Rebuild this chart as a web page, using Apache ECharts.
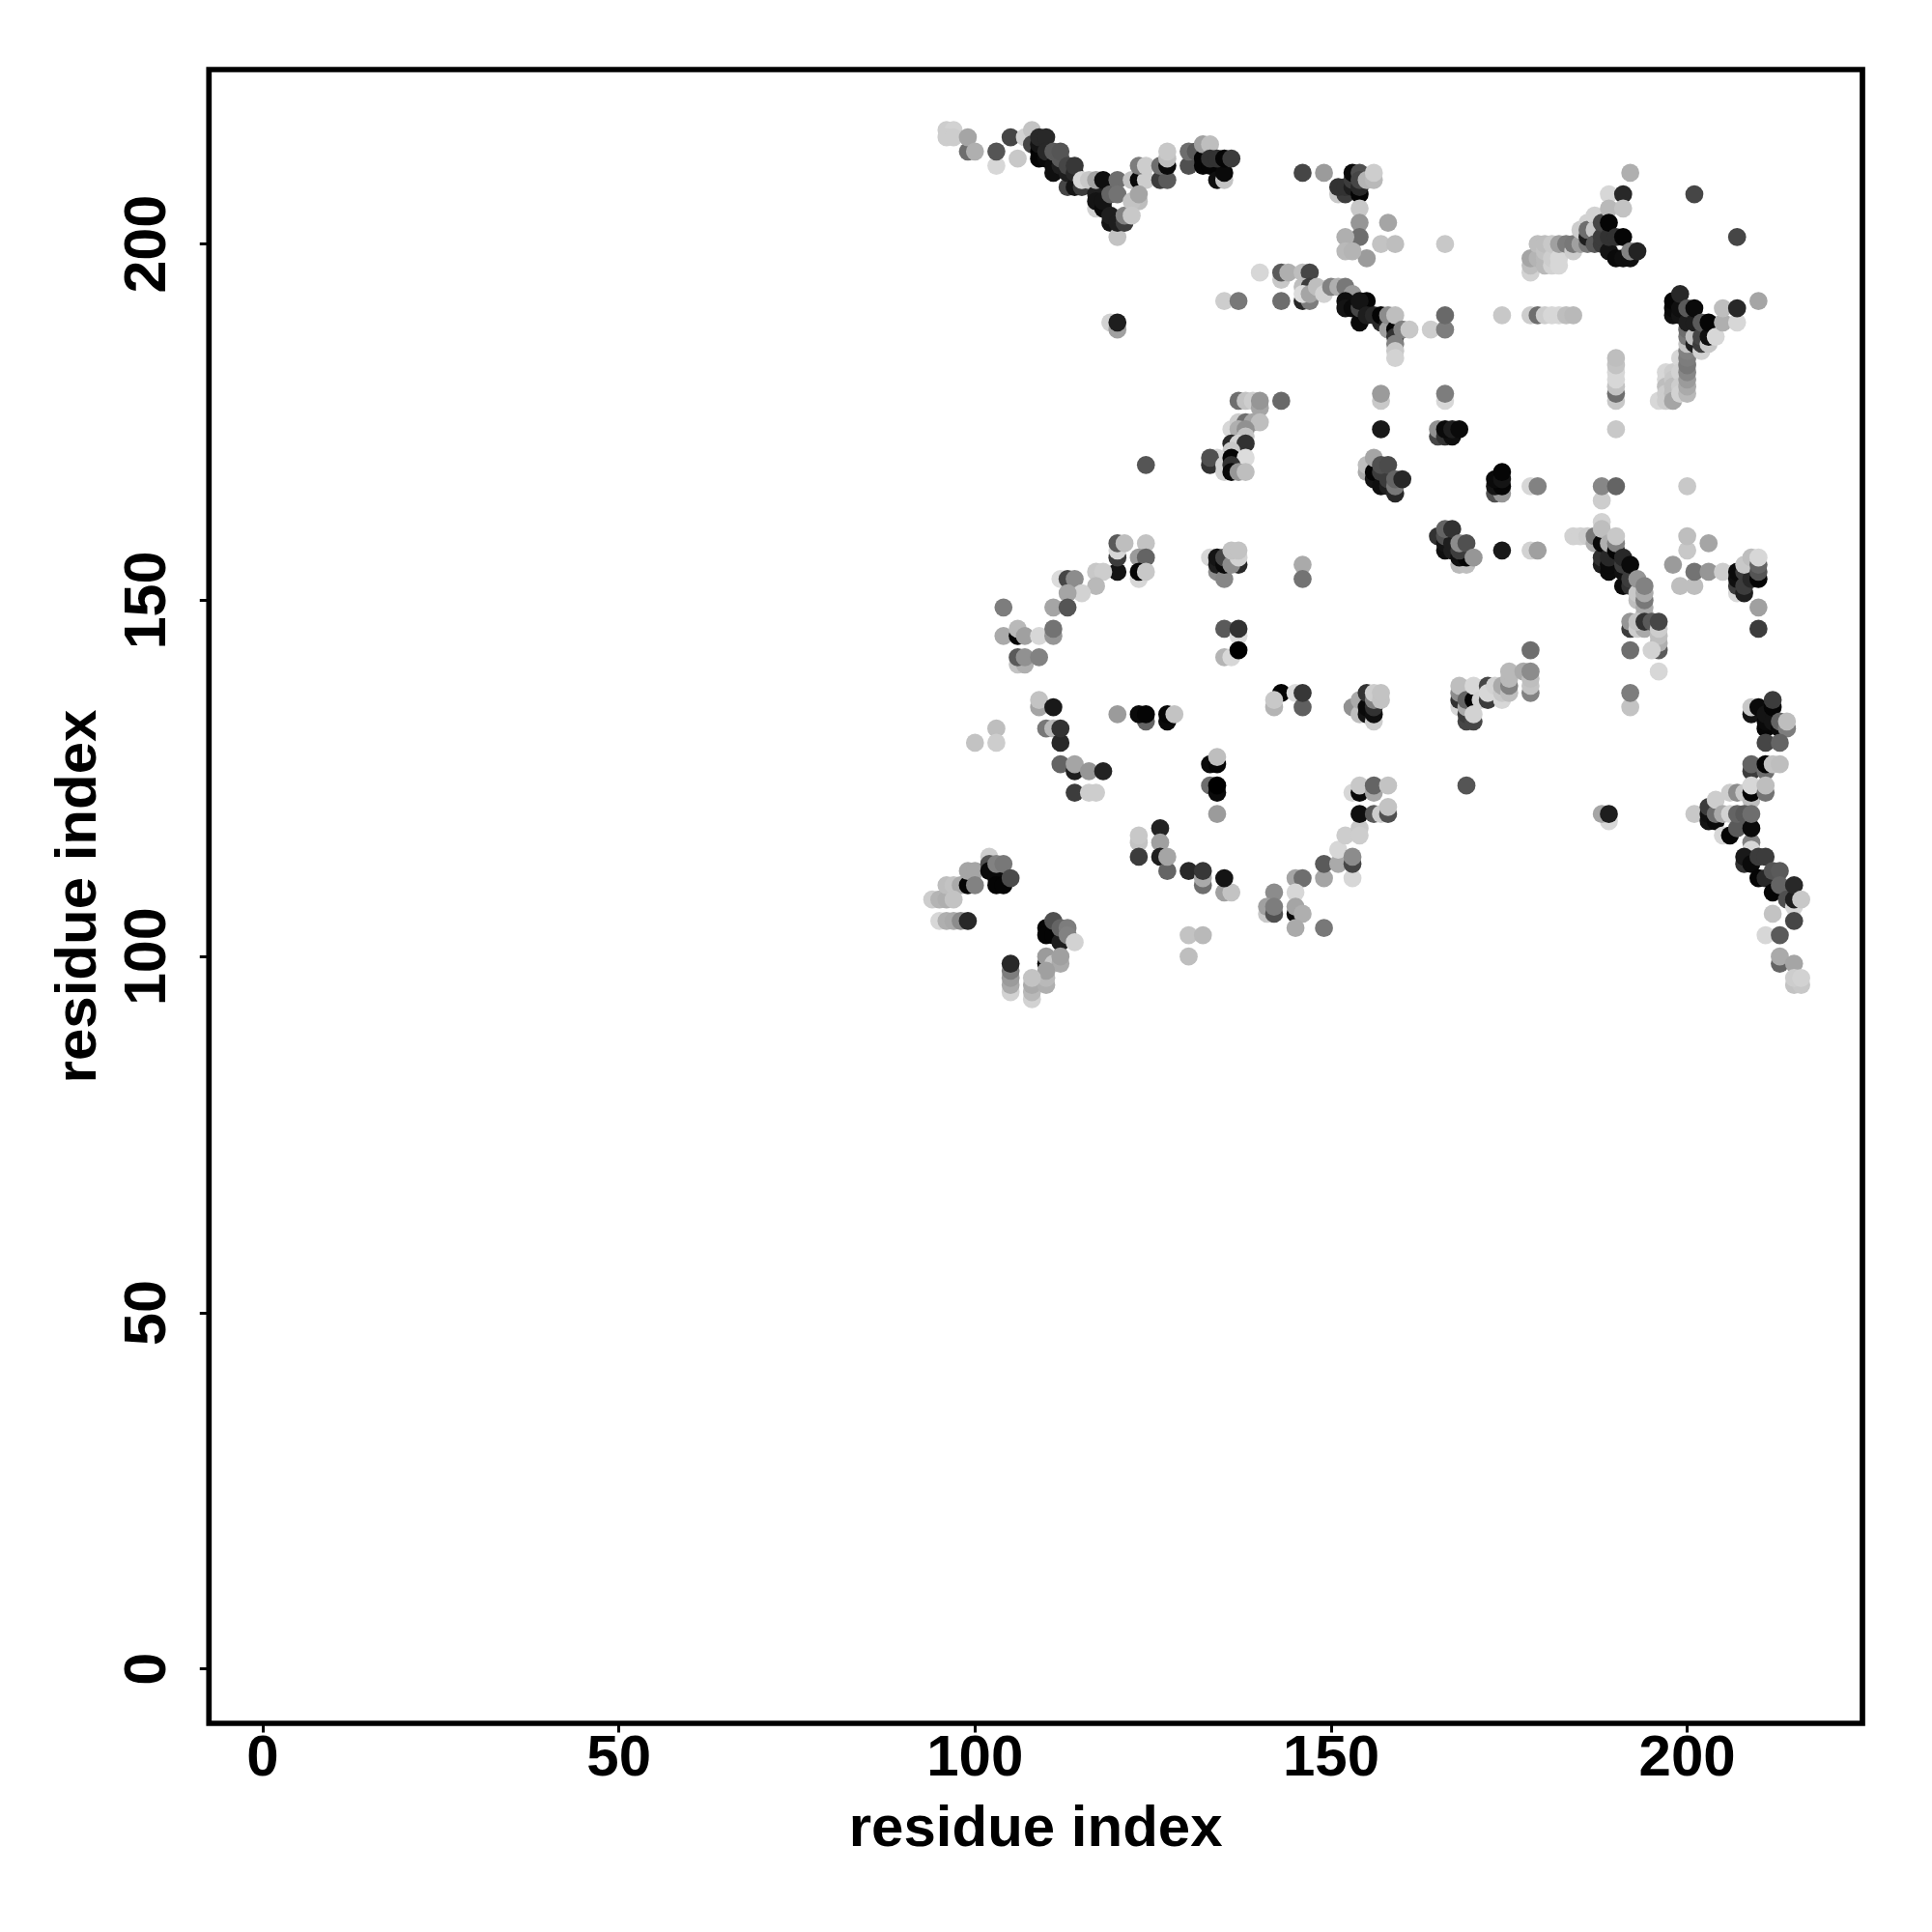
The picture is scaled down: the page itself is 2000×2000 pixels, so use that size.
<!DOCTYPE html>
<html><head><meta charset="utf-8">
<style>html,body{margin:0;padding:0;background:#fff}#c{width:2000px;height:2000px}</style>
<script src="https://cdn.jsdelivr.net/npm/echarts@6/dist/echarts.min.js"></script>
</head><body><div id="c"></div>
<script>
// Each contact: [residue i, residue j, grey level 0-255]
const topLeftArm=[[96,216,205],[97,216,210],[96,215,205],[97,215,205],[99,213,110],[99,215,165],[100,213,175],[103,211,215],[103,213,85],[105,215,70],[106,212,200],[107,215,210],[108,216,195],[108,214,70],[109,213,0],[109,212,5],[109,214,20],[109,215,40],[110,215,40],[110,212,10],[110,213,40],[111,211,15],[111,210,15],[111,213,90],[112,211,30],[112,212,90],[112,213,85],[113,208,70],[113,210,30],[113,211,70],[114,208,20],[114,210,40],[114,211,55],[115,208,60],[115,209,215],[116,209,200],[117,205,210],[117,207,30],[117,206,20],[117,209,165],[118,205,10],[118,206,20],[118,209,15],[119,203,20],[119,204,30],[119,207,100],[120,201,195],[120,203,30],[121,203,60],[121,204,130],[120,209,110],[120,207,115],[122,209,195],[123,209,10],[124,209,205],[123,206,190],[122,206,195],[123,207,165],[122,204,200],[123,211,125],[124,211,205],[126,209,60],[127,209,90],[126,211,110],[127,211,10],[127,212,190],[127,213,200]];
const topMiddleArm=[[130,211,80],[130,213,110],[131,213,90],[132,212,5],[132,211,5],[132,214,160],[133,214,190],[133,211,5],[133,212,50],[134,209,15],[135,209,195],[135,210,10],[134,212,50],[135,212,5],[136,212,60],[146,210,70],[149,210,155],[151,207,200],[152,207,60],[151,208,50],[152,208,50],[153,208,30],[154,207,5],[153,209,60],[153,210,10],[154,210,80],[154,208,40],[154,209,70],[155,209,180],[156,209,185],[156,210,205],[154,205,200],[154,203,150],[154,201,110],[158,203,165],[157,200,195],[159,200,190],[166,200,200],[155,198,155],[152,201,175],[152,199,185],[153,199,180]];
const diagonalUpper=[[140,196,215],[143,195,200],[143,196,90],[144,196,175],[146,196,190],[147,196,70],[146,194,190],[147,194,60],[135,192,205],[137,192,120],[143,192,110],[146,192,40],[147,192,125],[146,193,220],[147,193,165],[148,194,190],[149,193,210],[150,194,130],[151,194,175],[152,194,120],[153,193,155],[152,192,15],[152,191,20],[153,191,10],[154,189,10],[154,191,70],[155,192,5],[154,192,20],[155,190,30],[156,190,40],[157,189,40],[157,190,5],[158,189,30],[158,188,160],[158,190,140],[159,188,5],[159,187,50],[159,186,130],[159,185,200],[159,184,210],[159,190,190],[160,188,130],[161,188,200],[119,189,210],[120,188,160],[120,189,30],[164,188,205],[166,188,125],[166,190,105]];
const rowOneNinety=[[174,190,200],[178,190,205],[179,190,110],[180,190,205],[181,190,215],[182,190,215],[183,190,190],[184,190,185],[157,178,200],[157,179,155],[166,178,215],[166,179,125],[157,174,25],[165,173,70],[165,174,145],[166,173,50],[167,173,15],[166,174,10],[167,174,30],[168,174,10],[190,178,200],[190,179,110],[190,180,195],[190,181,215],[190,182,215],[190,183,195],[190,184,190],[190,174,200]];
const armOneNinety=[[178,196,210],[178,197,190],[178,198,165],[179,198,180],[179,200,190],[180,197,185],[180,198,185],[180,199,195],[180,200,190],[181,197,210],[181,198,205],[181,200,200],[182,197,215],[182,198,215],[182,200,160],[183,200,125],[184,199,205],[184,200,120],[185,200,160],[185,202,205],[186,203,210],[186,200,120],[186,201,30],[186,202,110],[187,204,210],[187,202,200],[187,200,90],[188,200,60],[188,201,60],[188,203,70],[189,207,215],[189,205,185],[189,199,20],[189,201,50],[189,203,5],[190,198,10],[190,201,50],[191,198,15],[191,207,40],[191,205,195],[191,201,5],[192,210,175],[192,198,15],[192,199,130],[193,199,35],[201,207,70],[207,201,70]];
const armTwoHundred=[[196,178,215],[197,182,215],[197,181,215],[197,180,190],[197,179,205],[197,178,205],[198,182,205],[198,181,200],[198,180,190],[198,179,190],[198,178,165],[199,184,215],[199,182,210],[199,180,205],[199,179,210],[200,179,185],[200,180,170],[200,181,155],[200,182,135],[200,183,120],[200,184,125],[200,185,130],[200,186,195],[200,187,120],[200,188,110],[198,190,15],[198,191,10],[198,192,5],[199,190,20],[199,191,15],[199,193,40],[200,189,30],[200,191,90],[201,186,30],[201,187,190],[201,189,30],[201,191,10],[202,185,210],[202,186,60],[202,187,70],[202,189,90],[203,186,200],[203,187,15],[203,189,5],[204,187,215],[205,189,175],[205,191,190],[207,189,215],[207,191,40],[210,192,165]];
const clusterLeftMiddle=[[137,178,110],[138,178,195],[139,178,205],[140,177,165],[140,178,150],[143,178,105],[136,174,215],[137,175,205],[138,175,110],[139,175,165],[140,175,190],[137,174,175],[138,174,145],[138,173,195],[136,172,40],[137,172,210],[138,172,50],[136,171,200],[134,170,215],[133,169,50],[133,170,80],[135,169,210],[136,170,5],[138,170,220],[135,168,210],[136,169,50],[136,168,10],[137,168,150],[138,168,190],[124,169,85],[146,155,170],[146,153,115]];
const clusterOneTwenty=[[120,154,20],[120,156,60],[120,157,215],[120,158,90],[121,158,190],[124,158,195],[123,156,155],[124,156,100],[123,153,215],[123,154,5],[124,154,200],[112,153,220],[113,153,70],[114,153,140],[117,154,200],[118,154,205],[117,152,185],[115,151,210],[113,151,165],[111,149,165],[113,149,85],[104,149,125],[104,145,170],[106,145,5],[106,146,185],[107,145,160],[109,145,215],[111,145,150],[111,146,115],[106,141,195],[107,141,175],[106,142,90],[107,142,145],[109,142,130]];
const clusterOneThirtyFive=[[133,156,215],[134,154,140],[134,155,30],[134,156,20],[135,153,135],[135,155,10],[135,156,70],[137,155,40],[136,155,140],[137,156,210],[136,157,195],[137,157,195],[135,146,90],[137,145,220],[137,146,50],[135,142,180],[136,142,215],[137,143,0],[143,137,5],[145,137,220],[146,135,95],[146,137,55],[142,135,180],[142,136,200]];
const rowOneThirtyFour=[[120,134,155],[124,133,100],[123,134,10],[124,134,5],[127,133,10],[127,134,5],[128,134,195],[109,135,165],[109,136,195],[111,135,25],[110,132,120],[111,132,185],[112,130,40],[112,132,50],[103,132,190],[103,130,205],[100,130,195],[112,127,100],[114,126,30],[114,127,165],[116,126,150],[118,126,35],[114,123,60],[116,123,205],[117,123,205],[133,127,10],[134,127,5],[134,128,190],[133,124,110],[134,123,10],[134,124,0],[134,120,155]];
const clusterOneTen=[[123,116,195],[123,117,200],[123,114,60],[126,118,35],[126,116,160],[126,114,30],[127,112,100],[127,114,165],[130,112,40],[132,110,110],[132,111,170],[132,112,55],[135,109,160],[136,109,195],[135,111,20],[145,111,165],[146,111,110],[149,111,165],[149,113,90],[145,109,215],[142,109,140],[141,106,200],[141,107,160],[142,106,80],[142,107,125],[145,106,10],[145,107,165],[146,106,175],[145,104,170],[149,104,120],[151,113,170],[151,115,215],[152,117,205],[153,111,215],[153,113,70],[153,114,140],[154,118,200],[154,117,205],[154,120,15],[153,123,215],[154,123,10],[154,124,200],[156,123,165],[156,124,100],[158,124,195],[156,120,90],[157,120,205],[158,120,80],[158,121,195],[169,124,85],[189,119,215],[188,120,165],[189,120,30]];
const clusterLowerLeft=[[94,108,205],[95,108,180],[96,108,175],[96,110,190],[97,110,195],[98,110,170],[99,110,5],[97,108,195],[95,105,215],[96,105,175],[97,105,170],[98,105,140],[99,105,40],[99,112,165],[100,112,165],[100,110,130],[102,114,205],[102,113,80],[102,112,10],[103,111,10],[103,110,5],[104,110,5],[103,113,130],[104,113,120],[105,111,75],[110,104,5],[110,103,5],[111,103,5],[111,105,80],[112,102,30],[112,104,100],[113,104,125],[113,103,130],[114,102,210],[110,99,0],[110,100,155],[111,99,200],[112,99,170],[112,100,160],[105,95,210],[105,96,170],[105,97,155],[105,98,125],[105,99,40],[108,94,210],[108,95,185],[108,96,170],[110,96,175],[110,97,185],[110,98,160],[108,97,195],[130,103,195],[132,103,185],[130,100,190]];
const clusterOneFiftyEight=[[155,168,170],[155,169,190],[156,167,20],[156,168,5],[156,170,165],[157,166,15],[157,168,60],[158,166,30],[158,167,60],[157,169,80],[158,169,75],[159,165,40],[159,166,120],[159,167,100],[160,167,40],[173,165,80],[174,165,150],[173,166,20],[174,166,5],[173,167,10],[174,167,20],[174,168,5],[178,166,215],[179,166,130],[188,164,205],[188,166,135],[190,166,100],[200,166,200]];
const clusterOneSixtyEight=[[165,159,50],[166,157,15],[166,158,20],[166,159,80],[167,157,30],[167,158,30],[166,160,100],[167,160,50],[168,155,185],[169,155,190],[168,156,15],[169,156,5],[168,157,60],[168,158,140],[169,158,80],[170,156,150],[174,157,25],[178,157,210],[179,157,160]];
const diagonalOneNinety=[[184,159,210],[185,159,210],[186,159,205],[187,158,175],[187,159,120],[188,155,30],[188,156,50],[188,158,10],[188,161,210],[188,160,190],[189,154,10],[189,155,10],[189,156,40],[189,158,175],[190,157,5],[190,158,130],[190,159,200],[191,152,10],[191,154,15],[191,155,60],[191,156,40],[192,152,50],[192,153,60],[192,155,10],[193,150,190],[193,151,200],[193,153,150],[194,148,180],[194,149,170],[194,150,120],[194,151,170],[194,152,130],[192,146,60],[192,147,150],[193,146,205],[194,146,170],[193,147,195],[194,147,50],[195,147,90],[196,143,90],[196,144,175],[196,145,190],[196,146,205],[196,147,70],[195,143,210],[192,143,110],[196,140,215]];
const clusterTwoHundredRight=[[200,157,200],[200,159,190],[203,158,165],[198,155,155],[199,152,190],[201,152,190],[201,154,115],[203,154,150],[205,154,205],[207,151,215],[207,152,60],[207,153,15],[207,154,10],[208,151,30],[208,152,60],[208,154,60],[209,153,40],[208,155,200],[209,156,190],[210,153,5],[210,154,85],[210,155,100],[210,156,215],[210,149,160],[210,146,60]];
const clusterOneSeventy=[[178,143,110],[168,135,215],[168,136,50],[168,137,140],[168,138,190],[169,133,70],[169,134,60],[170,133,70],[169,135,170],[169,136,100],[170,136,5],[170,134,210],[170,138,215],[171,136,210],[172,136,60],[172,138,70],[172,137,215],[173,138,210],[174,136,215],[174,137,200],[174,138,170],[175,137,190],[175,138,130],[175,139,185],[175,140,185],[177,140,170],[178,137,130],[178,138,195],[178,139,190],[178,140,140],[192,135,195],[192,137,125]];
const clusterOneFiftyFive=[[153,135,145],[154,134,190],[154,136,170],[155,134,20],[155,135,10],[155,137,50],[156,133,205],[156,134,15],[156,135,50],[156,136,130],[156,137,205],[157,136,195],[157,137,195]];
const clusterRightUpper=[[209,134,20],[209,135,200],[210,135,10],[211,132,5],[211,133,10],[211,134,20],[212,133,20],[212,135,5],[212,136,60],[213,132,10],[213,133,100],[214,132,125],[214,133,190],[211,130,70],[213,130,100],[209,126,60],[209,127,100],[211,126,110],[211,127,5],[212,127,195],[213,127,190]];
const diagonalRightLower=[[206,123,205],[207,123,140],[208,123,200],[209,122,190],[209,123,5],[209,124,215],[211,123,115],[211,124,190],[201,120,200],[203,119,20],[203,120,15],[203,121,60],[204,119,10],[204,120,110],[204,122,205],[205,117,215],[205,120,170],[206,117,5],[206,120,210],[207,118,90],[207,120,100],[208,120,90],[209,116,130],[209,118,10],[209,120,110],[209,115,215],[208,113,50],[208,114,25],[209,113,10],[210,111,5],[210,114,60],[211,111,40],[211,114,60],[212,109,5],[212,112,85],[213,112,90],[213,110,100],[214,108,80],[215,107,215],[215,108,30],[215,110,40],[216,108,200],[212,106,195],[215,105,70],[211,103,215],[213,103,90],[213,99,100],[213,100,170],[215,99,165],[215,96,195],[216,96,200],[215,97,205],[216,97,210]];

const tickValues=[0,50,100,150,200];
const xAxisTitle='residue index';
const yAxisTitle='residue index';

const contacts=[].concat(topLeftArm,topMiddleArm,diagonalUpper,rowOneNinety,armOneNinety,armTwoHundred,clusterLeftMiddle,clusterOneTwenty,clusterOneThirtyFive,rowOneThirtyFour,clusterOneTen,clusterLowerLeft,clusterOneFiftyEight,clusterOneSixtyEight,diagonalOneNinety,clusterTwoHundredRight,clusterOneSeventy,clusterOneFiftyFive,clusterRightUpper,diagonalRightLower);

const font='"Liberation Sans",Arial,sans-serif';
const chart=echarts.init(document.getElementById('c'),null,{renderer:'canvas'});
chart.setOption({
  animation:false,
  backgroundColor:'#fff',
  grid:{show:true,left:216.3,top:72,width:1711.7,height:1712,borderColor:'#000',borderWidth:5.7,backgroundColor:'transparent',containLabel:false},
  xAxis:{type:'value',min:-7.55,max:224.6,name:xAxisTitle,nameLocation:'middle',nameGap:80,
    nameTextStyle:{fontFamily:font,fontWeight:'bold',fontSize:60,color:'#000'},
    splitLine:{show:false},axisLine:{show:false,onZero:false},
    axisTick:{show:true,length:9.5,lineStyle:{color:'#000',width:3},customValues:tickValues},
    axisLabel:{fontFamily:font,fontWeight:'bold',fontSize:60,color:'#000',margin:7,customValues:tickValues}},
  yAxis:{type:'value',min:-7.63,max:224.5,name:yAxisTitle,nameLocation:'middle',nameGap:104,nameRotate:90,
    nameTextStyle:{fontFamily:font,fontWeight:'bold',fontSize:60,color:'#000'},
    splitLine:{show:false},axisLine:{show:false,onZero:false},
    axisTick:{show:true,length:9.5,lineStyle:{color:'#000',width:3},customValues:tickValues},
    axisLabel:{fontFamily:font,fontWeight:'bold',fontSize:61,color:'#000',rotate:90,margin:62,customValues:tickValues,verticalAlign:'middle',align:'center'}},
  series:[{type:'scatter',symbol:'circle',symbolSize:18.7,data:contacts,
    encode:{x:0,y:1},clip:false,
    itemStyle:{opacity:1,color:p=>{const g=p.value[2];return 'rgb('+g+','+g+','+g+')';}}}]
});
</script></body></html>
